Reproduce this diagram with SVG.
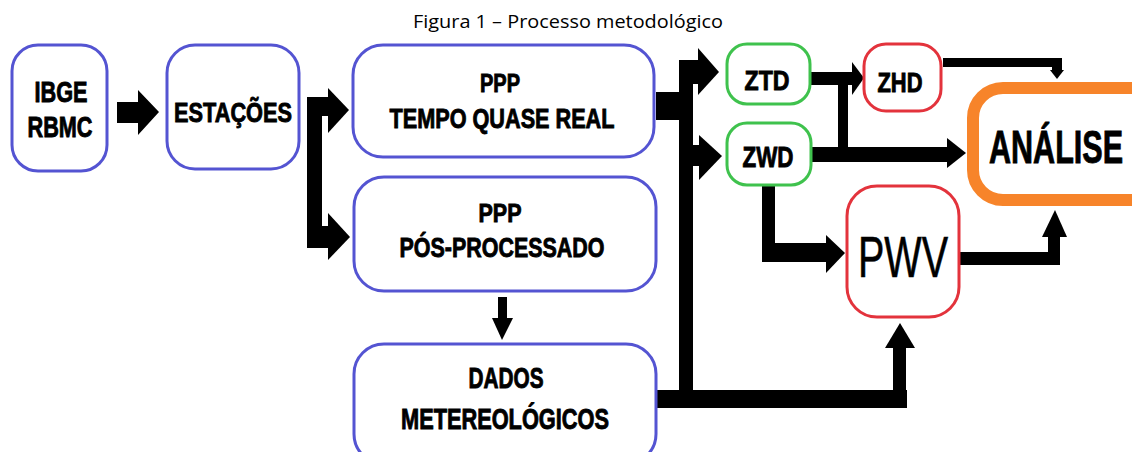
<svg xmlns="http://www.w3.org/2000/svg" width="1132" height="452" viewBox="0 0 1132 452">
<style>
.bg{fill:#ffffff}
.box{fill:#ffffff;stroke-width:3}
.blue{stroke:#5454d2}
.green{stroke:#3fc24d}
.red{stroke:#e3333c}
.orange{stroke:#f7842a;stroke-width:12}
.lbl{font-family:"Liberation Sans",Arial,sans-serif;font-weight:bold;fill:#000;stroke:#000;stroke-width:0.9;text-anchor:middle}
.thin{font-weight:normal;stroke-width:0.6}
.title{font-family:"Open Sans","Liberation Sans",sans-serif;font-size:18px;fill:#000}
.conn{fill:#000}
</style>
<rect class="bg" x="0" y="0" width="1132" height="452"/>
<text class="title" x="413" y="28" textLength="310" lengthAdjust="spacingAndGlyphs">Figura 1 – Processo metodológico</text>

<g id="connectors" class="conn">
  <polygon points="117,102 138,102 138,90 159,112 138,135 138,123 117,123"/>
  <rect x="307" y="97" width="15" height="151"/>
  <rect x="307" y="97" width="22" height="19"/>
  <polygon points="328,88 349,110 328,133"/>
  <rect x="307" y="226" width="22" height="22"/>
  <polygon points="328,213 350,237 328,260"/>
  <rect x="498" y="297" width="9" height="22"/>
  <polygon points="492,318 513,318 502,340"/>
  <rect x="656" y="92" width="25" height="28"/>
  <rect x="679" y="60" width="14" height="348"/>
  <rect x="679" y="60" width="21" height="24"/>
  <polygon points="698,48 719,72 698,95"/>
  <rect x="692" y="145" width="8" height="21"/>
  <polygon points="699,135 722,156 699,180"/>
  <rect x="657" y="390" width="250" height="18"/>
  <rect x="893" y="346" width="13" height="62"/>
  <polygon points="885,348 900,323 915,348"/>
  <rect x="810" y="72" width="43" height="13"/>
  <polygon points="852,62 864,78 852,95"/>
  <rect x="838" y="72" width="10" height="85"/>
  <rect x="811" y="147" width="137" height="15"/>
  <polygon points="947,138 966,153 947,168"/>
  <rect x="762" y="186" width="13" height="76"/>
  <rect x="762" y="243" width="65" height="19"/>
  <polygon points="826,235 845,253 826,273"/>
  <rect x="960" y="252" width="100" height="13"/>
  <rect x="1048" y="236" width="12" height="29"/>
  <polygon points="1042,237 1055,210 1067,237"/>
  <rect x="943" y="58" width="119" height="9"/>
  <rect x="1052" y="58" width="10" height="12"/>
  <polygon points="1050,70 1064,70 1057,79"/>
</g>

<g id="ibge">
  <rect class="box blue" x="12" y="45" width="95" height="126" rx="26"/>
  <text class="lbl" x="61" y="102" font-size="30" textLength="53" lengthAdjust="spacingAndGlyphs">IBGE</text>
  <text class="lbl" x="60" y="137" font-size="30" textLength="65" lengthAdjust="spacingAndGlyphs">RBMC</text>
</g>
<g id="estacoes">
  <rect class="box blue" x="167" y="45" width="132" height="124" rx="28"/>
  <text class="lbl" x="233" y="122" font-size="28" textLength="118" lengthAdjust="spacingAndGlyphs">ESTAÇÕES</text>
</g>
<g id="ppp-tempo">
  <rect class="box blue" x="353" y="45" width="301" height="112" rx="30"/>
  <text class="lbl" x="500" y="92" font-size="25" textLength="40" lengthAdjust="spacingAndGlyphs">PPP</text>
  <text class="lbl" x="502" y="128" font-size="28" textLength="225" lengthAdjust="spacingAndGlyphs">TEMPO QUASE REAL</text>
</g>
<g id="ppp-pos">
  <rect class="box blue" x="354" y="177" width="302" height="114" rx="30"/>
  <text class="lbl" x="500" y="222" font-size="26" textLength="43" lengthAdjust="spacingAndGlyphs">PPP</text>
  <text class="lbl" x="502" y="257" font-size="28" textLength="205" lengthAdjust="spacingAndGlyphs">PÓS-PROCESSADO</text>
</g>
<g id="dados">
  <rect class="box blue" x="354" y="344" width="302" height="120" rx="30"/>
  <text class="lbl" x="506" y="388" font-size="29" textLength="75" lengthAdjust="spacingAndGlyphs">DADOS</text>
  <text class="lbl" x="505" y="429" font-size="29" textLength="208" lengthAdjust="spacingAndGlyphs">METEREOLÓGICOS</text>
</g>
<g id="ztd">
  <rect class="box green" x="727" y="44" width="83" height="60" rx="20"/>
  <text class="lbl" x="767" y="90" font-size="28" textLength="45" lengthAdjust="spacingAndGlyphs">ZTD</text>
</g>
<g id="zwd">
  <rect class="box green" x="727" y="123" width="84" height="62" rx="20"/>
  <text class="lbl" x="768" y="167" font-size="30" textLength="51" lengthAdjust="spacingAndGlyphs">ZWD</text>
</g>
<g id="zhd">
  <rect class="box red" x="864" y="44" width="77" height="67" rx="22"/>
  <text class="lbl" x="900" y="92" font-size="28" textLength="45" lengthAdjust="spacingAndGlyphs">ZHD</text>
</g>
<g id="pwv">
  <rect class="box red" x="847" y="186" width="112" height="131" rx="30"/>
  <text class="lbl thin" x="903" y="277" font-size="58" textLength="90" lengthAdjust="spacingAndGlyphs">PWV</text>
</g>
<g id="analise">
  <rect class="box orange" x="973" y="88" width="200" height="112" rx="30"/>
  <text class="lbl" x="1056" y="163" font-size="46" textLength="134" lengthAdjust="spacingAndGlyphs">ANÁLISE</text>
</g>
</svg>
